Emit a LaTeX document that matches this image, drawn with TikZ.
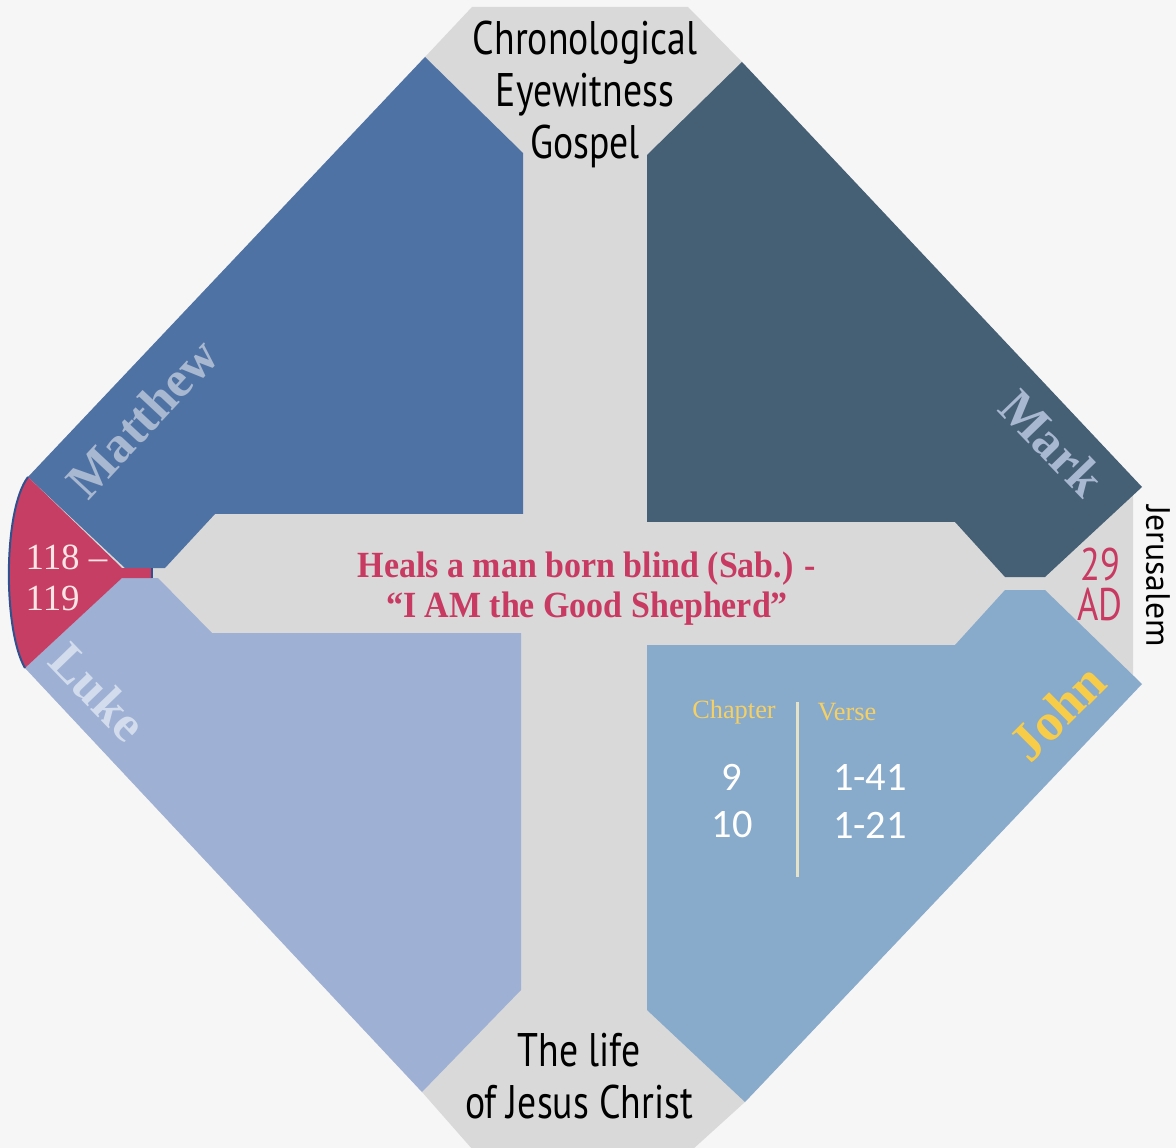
\documentclass[tikz,border=0pt]{standalone}
\usepackage{fontspec}
\setmainfont{Liberation Serif}
\setsansfont{PT Sans}
\newfontfamily\narrowfont[FakeStretch=0.8, Ligatures=TeX]{PT Sans}
\newfontfamily\eventfont[FakeStretch=0.92, Ligatures=TeX]{Liberation Serif}
\newfontfamily\numfont{Carlito}

\definecolor{paper}{RGB}{246,246,246}
\definecolor{crossgray}{RGB}{217,217,217}
\definecolor{matthewblue}{RGB}{79,114,164}
\definecolor{markblue}{RGB}{69,95,117}
\definecolor{lukeblue}{RGB}{158,176,212}
\definecolor{johnblue}{RGB}{136,170,203}
\definecolor{wedgered}{RGB}{199,62,100}
\definecolor{eventred}{RGB}{200,58,98}
\definecolor{edgeblue}{RGB}{47,82,143}
\definecolor{namegray}{RGB}{168,184,208}
\definecolor{lukename}{RGB}{210,220,236}
\definecolor{johnyellow}{RGB}{247,204,72}
\definecolor{labelyellow}{RGB}{245,208,100}
\definecolor{rulecream}{RGB}{230,226,200}

\begin{document}
\begin{tikzpicture}[x=0.1mm, y=-0.1mm,
		gospel/.style={font=\bfseries\fontsize{14.5}{14.5}\selectfont},
		heading/.style={font=\narrowfont\fontsize{13.4}{14.8}\selectfont, align=center},
		colhead/.style={text=labelyellow, font=\fontsize{7.5}{9}\selectfont},
		cell/.style={text=white, font=\numfont\fontsize{11.5}{12}\selectfont}]
			\fill[paper] (0,0) rectangle (1176,1148);
			\useasboundingbox (0,0) rectangle (1176,1148);
			% grey cross behind the four panels
			\fill[crossgray] (472,7) -- (688,7) -- (742,62) -- (1133,478) -- (1133,692)
				-- (745,1102) -- (692,1150) -- (473,1150) -- (422,1092) -- (25,668)
				-- (28,477) -- (425,57) -- cycle;
			% the four gospels
			\fill[matthewblue] (425,57) -- (523,153) -- (523,514) -- (215,514)
				-- (165,568) -- (125,568) -- (28,477) -- cycle;
			\fill[markblue] (742,62) -- (1142,487) -- (1045,577) -- (1005,577)
				-- (955,522) -- (647,522) -- (647,155) -- cycle;
			\fill[lukeblue] (25,668) -- (122,578) -- (158,578) -- (212,633)
				-- (521,633) -- (521,990) -- (422,1092) -- cycle;
			\fill[johnblue] (1005,590) -- (1045,590) -- (1142,684) -- (745,1102)
				-- (647,1010) -- (647,645) -- (955,645) -- cycle;
			% red wedge on the left
			\fill[wedgered] (28,477) -- (122,568) -- (152,568) -- (152,578) -- (122,578)
				-- (25,668) .. controls (3,630) and (3,510) .. (28,477) -- cycle;
			\draw[edgeblue, line width=0.2mm] (25,668) .. controls (3,630) and (3,510) .. (28,477);
			\draw[edgeblue, line width=0.2mm] (152,568) -- (152,578);
			\node[heading] (chrono) at (585,94) {Chronological\\Eyewitness\\Gospel};
			\node[heading] (life) at (579,1076) {The life\\of Jesus Christ};
			\node[gospel, text=namegray, rotate=47] (matthew) at (142,418) {Matthew};
			\node[gospel, text=namegray, rotate=-46] (mark) at (1052,443) {Mark};
			\node[gospel, text=lukename, rotate=-46] (luke) at (98,692) {Luke};
			\node[gospel, text=johnyellow, rotate=45, font=\bfseries\fontsize{15}{15}\selectfont]
				(john) at (1057,712) {John};
			\node[anchor=west, inner sep=0, align=left, text=white!90!red,
				font=\fontsize{10.5}{11.7}\selectfont] (refs) at (25,578) {118 –\\119};
			\node[align=center, text=eventred, font=\eventfont\bfseries\fontsize{10.5}{11.4}\selectfont]
				(event) at (587,589) {Heals a man born blind (Sab.) -\\“I AM the Good Shepherd”};
			\node[align=center, text=eventred, font=\narrowfont\fontsize{13}{11.4}\selectfont]
				(year) at (1100,584) {29\\AD};
			\node[rotate=-90, font=\sffamily\fontsize{9.6}{9.6}\selectfont] (place) at (1158,576) {Jerusalem};
			% chapter and verse table
			\node[colhead] (chap) at (734,712) {Chapter};
			\node[colhead] (verse) at (847,712) {Verse};
			\node[cell] (c1) at (732,777) {9};
			\node[cell] (c2) at (732,825) {10};
			\node[cell] (v1) at (870,777) {1-41};
			\node[cell] (v2) at (870,825) {1-21};
			\draw[rulecream, line width=0.3mm] (797,702) -- (797,877);
		\end{tikzpicture}
\end{document}
